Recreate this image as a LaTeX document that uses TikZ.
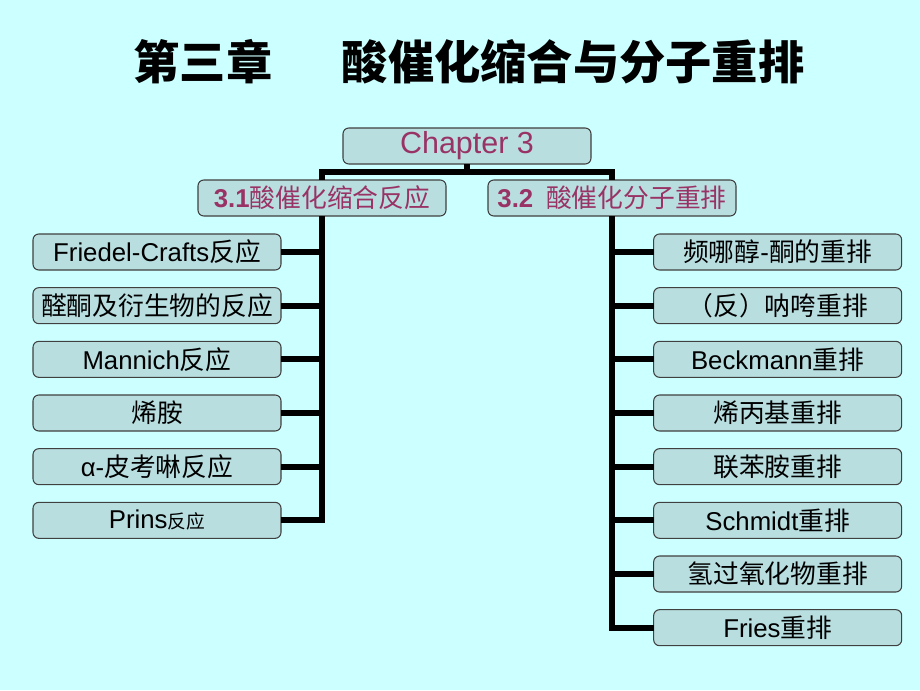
\documentclass[tikz,border=0pt]{standalone}
\usepackage{fontspec}
\setmainfont{Liberation Sans}
\newfontfamily\cjk{Noto Sans CJK SC}
\usetikzlibrary{positioning, calc}

\definecolor{bgcyan}{HTML}{CCFFFF}
\definecolor{boxfill}{HTML}{B8DEE0}
\definecolor{plum}{HTML}{993366}
\newcommand{\zh}[1]{{\cjk #1}}

\begin{document}
\begin{tikzpicture}[
  % --- styles ------------------------------------------------------------
  box/.style={
    rectangle, draw=black!75, line width=0.9pt, rounded corners=5pt,
    minimum width=7.44cm, minimum height=1.08cm, inner sep=0pt, outer sep=0pt,
    fill=boxfill, font=\fontsize{22}{24}\selectfont
  },
  headbox/.style={box, text=plum},
  tree/.style={line width=5pt},
  node distance = 0.53cm
]

% --------------------- page ---------------------------------------------
\fill[bgcyan] (0,0) rectangle (27.6,-20.7);
\useasboundingbox (0,0) rectangle (27.6,-20.7);

\node[font=\fontsize{39.5}{42}\selectfont\bfseries\cjk] (title) at (14.07,-1.86)
  {第三章\hspace{1.5em}酸催化缩合与分子重排};

% --------------------- top of the tree ----------------------------------
\node[headbox, font=\fontsize{26}{28}\selectfont] (ch3) at (14.01,-4.38) {Chapter 3};
\node[headbox] (s31) at (9.66,-5.94) {\textbf{3.1}\zh{酸催化缩合反应}};
\node[headbox] (s32) at (18.36,-5.94) {\textbf{3.2}\hspace{0.5em}\zh{酸催化分子重排}};

% --------------------- left column --------------------------------------
\node[box] (fc) at (4.71,-7.56) {Friedel-Crafts\zh{反应}};
\node[box, below=of fc] (ald) {\zh{醛酮及衍生物的反应}};
\node[box, below=of ald] (man) {Mannich\zh{反应}};
\node[box, below=of man] (ena) {\zh{烯胺}};
\node[box, below=of ena] (pic) {α-\zh{皮考啉反应}};
\node[box, below=of pic] (pri) {Prins{\fontsize{16}{18}\selectfont\zh{反应}}};

% --------------------- right column -------------------------------------
\node[box] (pin) at (23.33,-7.56) {\zh{频哪醇}-\zh{酮的重排}};
\node[box, below=of pin] (naz) {\zh{（反）呐咵重排}};
\node[box, below=of naz] (bec) {Beckmann\zh{重排}};
\node[box, below=of bec] (all) {\zh{烯丙基重排}};
\node[box, below=of all] (ben) {\zh{联苯胺重排}};
\node[box, below=of ben] (sch) {Schmidt\zh{重排}};
\node[box, below=of sch] (hyd) {\zh{氢过氧化物重排}};
\node[box, below=of hyd] (fri) {Fries\zh{重排}};

% --------------------- connectors ---------------------------------------
\coordinate (fork) at ($(ch3.south)+(0,-0.24)$);
\draw[tree] (ch3.south) -- (fork);
\draw[tree] (fork) -| (s31.north);
\draw[tree] (fork) -| (s32.north);

% left trunk
\draw[tree] (s31.south) |- (pri.east);
\draw[tree] (fc.east) -- (fc.east -| s31.south);
\draw[tree] (ald.east) -- (ald.east -| s31.south);
\draw[tree] (man.east) -- (man.east -| s31.south);
\draw[tree] (ena.east) -- (ena.east -| s31.south);
\draw[tree] (pic.east) -- (pic.east -| s31.south);

% right trunk
\draw[tree] (s32.south) |- (fri.west);
\draw[tree] (pin.west) -- (pin.west -| s32.south);
\draw[tree] (naz.west) -- (naz.west -| s32.south);
\draw[tree] (bec.west) -- (bec.west -| s32.south);
\draw[tree] (all.west) -- (all.west -| s32.south);
\draw[tree] (ben.west) -- (ben.west -| s32.south);
\draw[tree] (sch.west) -- (sch.west -| s32.south);
\draw[tree] (hyd.west) -- (hyd.west -| s32.south);

\end{tikzpicture}
\end{document}
